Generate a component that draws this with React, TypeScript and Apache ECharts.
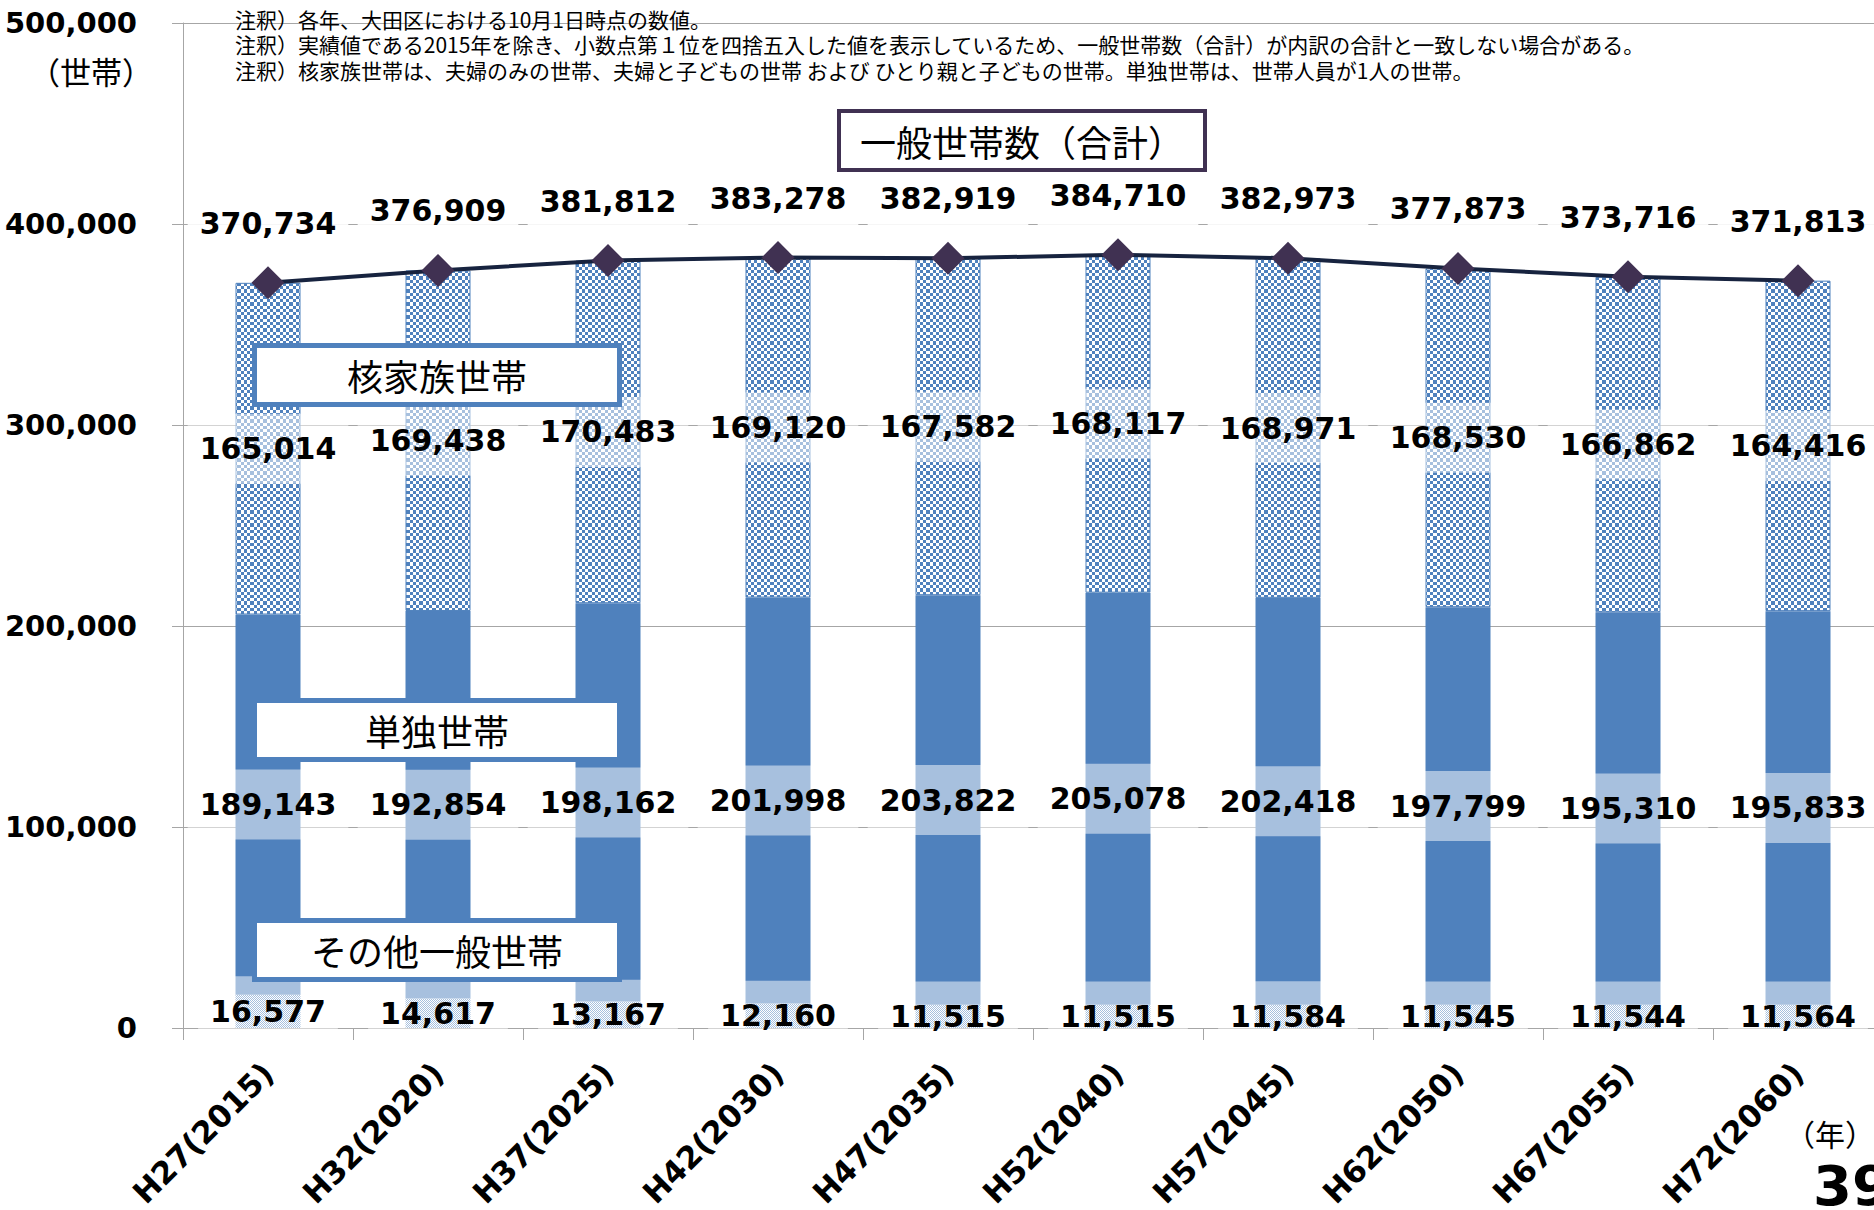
import React, { useEffect, useRef } from "react";
import * as echarts from "echarts";

const categories = [
  "H27(2015)", "H32(2020)", "H37(2025)", "H42(2030)", "H47(2035)",
  "H52(2040)", "H57(2045)", "H62(2050)", "H67(2055)", "H72(2060)",
];
const otherHouseholds = [16577, 14617, 13167, 12160, 11515, 11515, 11584, 11545, 11544, 11564];
const singleHouseholds = [189143, 192854, 198162, 201998, 203822, 205078, 202418, 197799, 195310, 195833];
const nuclearHouseholds = [165014, 169438, 170483, 169120, 167582, 168117, 168971, 168530, 166862, 164416];
const totalHouseholds = [370734, 376909, 381812, 383278, 382919, 384710, 382973, 377873, 373716, 371813];

const seriesNames = ["その他一般世帯", "単独世帯", "核家族世帯", "一般世帯数（合計）"];
const notes = [
  "注釈）各年、大田区における10月1日時点の数値。",
  "注釈）実績値である2015年を除き、小数点第１位を四捨五入した値を表示しているため、一般世帯数（合計）が内訳の合計と一致しない場合がある。",
  "注釈）核家族世帯は、夫婦のみの世帯、夫婦と子どもの世帯 および ひとり親と子どもの世帯。単独世帯は、世帯人員が1人の世帯。",
];
const yUnit = "（世帯）";
const xUnit = "（年）";
const pageNo = "39";

const BLUE = "#4F81BD";
const NUM_FONT = "'DejaVu Sans', 'Noto Sans CJK JP', sans-serif";
const JP_FONT = "'Noto Sans CJK JP', sans-serif";

function fmt(v: number) {
  return Number(v).toLocaleString("en-US");
}

function checker(cell: number, n: number, c1: string, c2: string) {
  const s = Math.round(cell * n);
  let rects = `<rect width="${s}" height="${s}" fill="${c2}"/>`;
  for (let i = 0; i < n; i++) {
    for (let j = 0; j < n; j++) {
      if ((i + j) % 2 === 0) {
        rects += `<rect x="${i * cell}" y="${j * cell}" width="${cell}" height="${cell}" fill="${c1}"/>`;
      }
    }
  }
  const svg =
    `<svg xmlns="http://www.w3.org/2000/svg" width="${s}" height="${s}" viewBox="0 0 ${s} ${s}" shape-rendering="crispEdges">` +
    rects +
    `</svg>`;
  return {
    image: "data:image/svg+xml;charset=utf-8," + encodeURIComponent(svg),
    repeat: "repeat",
    imageWidth: s,
    imageHeight: s,
  } as any;
}

export default function App() {
  const ref = useRef<HTMLDivElement>(null);
  useEffect(() => {
    document.body.style.margin = "0";
    const chart = echarts.init(ref.current!, null, { renderer: "svg" });

    const barLabel = {
      show: true,
      position: "inside",
      color: "#000",
      fontFamily: NUM_FONT,
      fontWeight: "bold",
      fontSize: 30,
      lineHeight: 30,
      backgroundColor: "rgba(255,255,255,0.5)",
      padding: [20, 12],
      formatter: (p: any) => fmt(p.value),
    };

    const boxes = [
      { text: seriesNames[3], x: 839, y: 111, w: 366, h: 59, stroke: "#403152", lw: 4 },
      { text: seriesNames[2], x: 254.5, y: 345.5, w: 365, h: 59, stroke: BLUE, lw: 5 },
      { text: seriesNames[1], x: 254.5, y: 700.5, w: 365, h: 59, stroke: BLUE, lw: 5 },
      { text: seriesNames[0], x: 254.5, y: 920.5, w: 365, h: 59, stroke: BLUE, lw: 5 },
    ];

    const graphics: any[] = [];
    graphics.push({
      type: "text",
      x: 235,
      y: 6,
      z: 50,
      style: {
        text: notes.join("\n"),
        font: `21px ${JP_FONT}`,
        lineHeight: 25.5,
        fill: "#000",
        textAlign: "left",
        textVerticalAlign: "top",
      },
    });
    graphics.push({
      type: "text",
      x: 153,
      y: 70,
      style: { text: yUnit, font: `31px ${JP_FONT}`, fill: "#000", textAlign: "right", textVerticalAlign: "middle" },
    });
    graphics.push({
      type: "text",
      x: 1830,
      y: 1133,
      style: { text: xUnit, font: `30px ${JP_FONT}`, fill: "#000", textAlign: "center", textVerticalAlign: "middle" },
    });
    graphics.push({
      type: "text",
      x: 1813,
      y: 1185,
      style: { text: pageNo, font: `bold 56px ${NUM_FONT}`, fill: "#000", textAlign: "left", textVerticalAlign: "middle" },
    });
    boxes.forEach((b) => {
      graphics.push({
        type: "rect",
        z: 100,
        shape: { x: b.x, y: b.y, width: b.w, height: b.h },
        style: { fill: "#fff", stroke: b.stroke, lineWidth: b.lw },
      });
      graphics.push({
        type: "text",
        z: 101,
        x: b.x + b.w / 2,
        y: b.y + b.h / 2,
        style: { text: b.text, font: `36px ${JP_FONT}`, fill: "#000", textAlign: "center", textVerticalAlign: "middle" },
      });
    });

    chart.setOption({
      animation: false,
      backgroundColor: "#fff",
      grid: { left: 183, right: -9, top: 23, bottom: 182, containLabel: false, outerBoundsMode: "none" },
      xAxis: {
        type: "category",
        data: categories,
        axisLine: { lineStyle: { color: "#A6A6A6", width: 1 } },
        axisTick: { show: true, length: 12, lineStyle: { color: "#A6A6A6" } },
        axisLabel: {
          interval: 0,
          rotate: 45,
          margin: 40,
          color: "#000",
          fontFamily: NUM_FONT,
          fontWeight: "bold",
          fontSize: 31,
        },
      },
      yAxis: {
        type: "value",
        min: 0,
        max: 500000,
        interval: 100000,
        axisLine: { show: true, lineStyle: { color: "#A6A6A6", width: 1 } },
        axisTick: { show: true, length: 11, lineStyle: { color: "#A6A6A6" } },
        splitLine: { lineStyle: { color: "#A6A6A6", width: 1 } },
        axisLabel: {
          margin: 46,
          color: "#000",
          fontFamily: NUM_FONT,
          fontWeight: "bold",
          fontSize: 29,
          formatter: (v: number) => fmt(v),
        },
      },
      series: [
        {
          name: seriesNames[0],
          type: "bar",
          stack: "total",
          barWidth: 65,
          data: otherHouseholds,
          itemStyle: { color: checker(1, 2, BLUE, "#ffffff") },
          label: barLabel,
        },
        {
          name: seriesNames[1],
          type: "bar",
          stack: "total",
          barWidth: 65,
          data: singleHouseholds,
          itemStyle: { color: BLUE },
          label: barLabel,
        },
        {
          name: seriesNames[2],
          type: "bar",
          stack: "total",
          barWidth: 65,
          data: nuclearHouseholds,
          itemStyle: { color: checker(3.25, 4, BLUE, "#ffffff"), borderColor: BLUE, borderWidth: 1 },
          label: barLabel,
        },
        {
          name: seriesNames[3],
          type: "line",
          z: 5,
          data: totalHouseholds,
          symbol: "diamond",
          symbolSize: 33,
          itemStyle: { color: "#403152" },
          lineStyle: { color: "#17233F", width: 4 },
          label: {
            show: true,
            position: "top",
            distance: 8,
            color: "#000",
            fontFamily: NUM_FONT,
            fontWeight: "bold",
            fontSize: 30,
            lineHeight: 30,
            backgroundColor: "rgba(255,255,255,0.9)",
            padding: [20, 12],
            formatter: (p: any) => fmt(p.value),
          },
        },
      ],
      graphic: graphics,
    });
    return () => chart.dispose();
  }, []);
  return (
    <div
      ref={ref}
      style={{ position: "fixed", left: 0, top: 0, width: 1874, height: 1210, overflow: "hidden" }}
    />
  );
}
